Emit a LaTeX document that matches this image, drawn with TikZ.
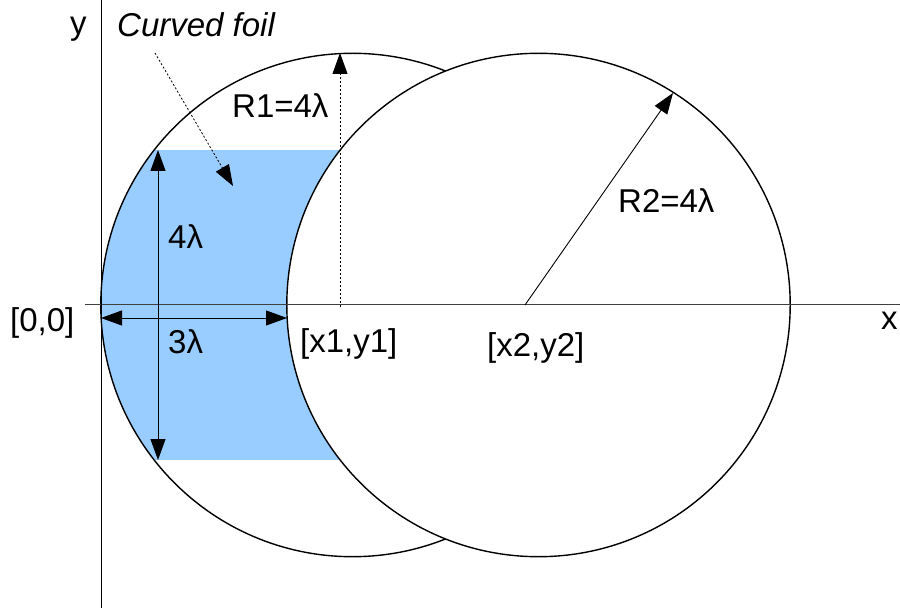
\documentclass[tikz,border=0pt]{standalone}
\usepackage{fontspec}
\setmainfont{Liberation Sans}
\usetikzlibrary{arrows.meta}
\definecolor{foilblue}{RGB}{153,204,255}
\begin{document}
\begin{tikzpicture}[x=1pt,y=-1pt,
  lbl/.style={inner sep=0pt,anchor=base west,font=\fontsize{33}{38}\selectfont},
  curve/.style={line width=1.4pt,black},
  axisline/.style={line width=1pt},
  tip/.style={-{Triangle[length=21pt,width=15pt]}},
  dtip/.style={{Triangle[length=21pt,width=15pt]}-{Triangle[length=21pt,width=15pt]}},
  dotline/.style={line width=0.8pt,dash pattern=on 2pt off 2pt},
  arrline/.style={line width=0.9pt}]
\useasboundingbox (0,0) rectangle (900,612);
% centres
\coordinate (c1) at (352.5,305);
\coordinate (c2) at (538.5,305);
% blue foil
\begin{scope}
  \clip (c1) circle (251.7);
  \fill[foilblue] (90,150) rectangle (460,460);
\end{scope}
% circles (circle 2 opaque, over circle 1)
\draw[curve] (c1) circle (251.7);
\draw[curve,fill=white] (c2) circle (251.7);
% axes
\coordinate (xa0) at (85,305);
\coordinate (xa1) at (900,305);
\coordinate (ya0) at (101,0);
\coordinate (ya1) at (101,608);
\draw[axisline,black!75] (xa0) -- (xa1);
\draw[axisline] (ya0) -- (ya1);
% R1 dotted arrow
\coordinate (r1a) at (340,307);
\coordinate (r1b) at (340,53);
\draw[dotline,tip] (r1a) -- (r1b);
% R2 arrow
\coordinate (r2a) at (525,305);
\coordinate (r2b) at (673,93);
\draw[arrline,tip] (r2a) -- (r2b);
% foil pointer
\coordinate (fa) at (155,53);
\coordinate (fb) at (233,186);
\draw[dotline,tip] (fa) -- (fb);
% dimension arrows
\coordinate (va) at (158,150);
\coordinate (vb) at (158,460);
\draw[arrline,dtip] (va) -- (vb);
\coordinate (ha) at (101,318);
\coordinate (hb) at (287,318);
\draw[arrline,dtip] (ha) -- (hb);
% labels
\node[lbl] (ylab) at (70,35) {y};
\node[lbl,font=\fontsize{33}{38}\selectfont\itshape] (foil) at (117,37) {Curved foil};
\node[lbl] (r1) at (232,118) {R1=4λ};
\node[lbl] (r2) at (618,213) {R2=4λ};
\node[lbl] (h4) at (168,249) {4λ};
\node[lbl] (w3) at (168,354) {3λ};
\node[lbl] (o) at (10,332) {[0,0]};
\node[lbl] (p1) at (300,353) {[x1,y1]};
\node[lbl] (p2) at (487,356) {[x2,y2]};
\node[lbl] (xlab) at (881,330) {x};
\end{tikzpicture}
\end{document}
